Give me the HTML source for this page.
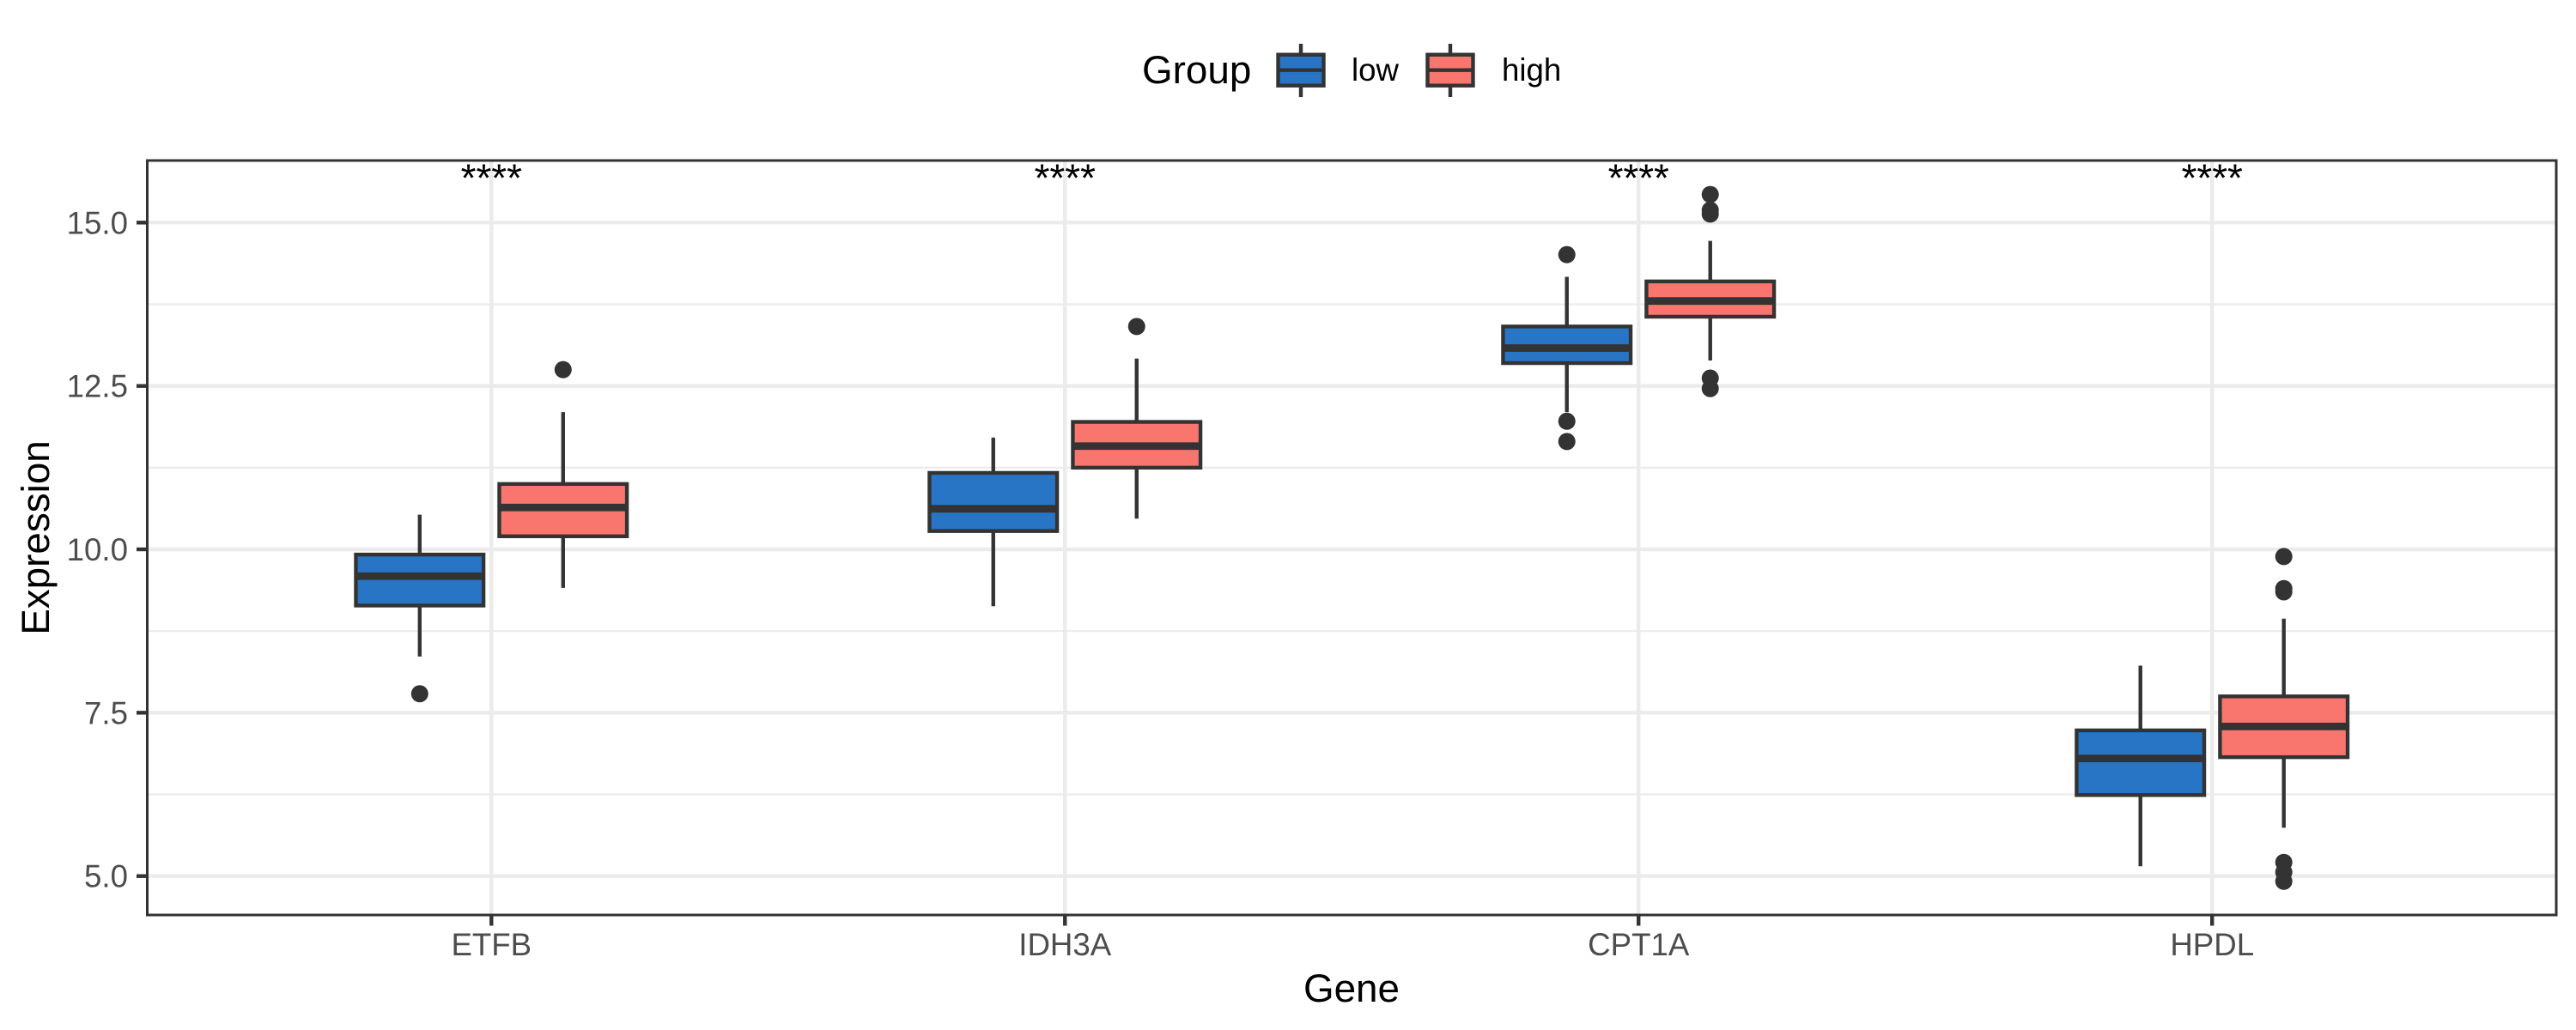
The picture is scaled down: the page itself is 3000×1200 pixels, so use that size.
<!DOCTYPE html>
<html lang="en">
<head>
<meta charset="utf-8">
<title>Expression by Gene and Group</title>
<style>
html,body{margin:0;padding:0;background:#fff;width:3000px;height:1200px;overflow:hidden}
svg{display:block}
text{font-family:"Liberation Sans",Arial,sans-serif}
</style>
</head>
<body>
<svg id="chart" xmlns="http://www.w3.org/2000/svg" width="3000" height="1200" viewBox="0 0 3000 1200">
  <rect x="0" y="0" width="3000" height="1200" fill="#ffffff"/>
  <g id="grid"></g>
  <g id="marks"></g>
  <g id="axes"></g>
  <text x="1574" y="1167" font-size="45.8" text-anchor="middle" fill="#000">Gene</text>
  <text transform="translate(57,626.5) rotate(-90)" font-size="45.8" text-anchor="middle" fill="#000">Expression</text>
  <g>
    <text x="1330" y="97" font-size="45.8" fill="#000">Group</text>
    <g>
      <line x1="1515" x2="1515" y1="51" y2="113" stroke="#333333" stroke-width="4.4"/>
      <rect x="1488.5" y="63.7" width="53" height="36" fill="#2874C5" stroke="#333333" stroke-width="4.4"/>
      <line x1="1488.5" x2="1541.5" y1="81.7" y2="81.7" stroke="#333333" stroke-width="4.4"/>
      <text x="1574" y="94" font-size="36.67" fill="#000">low</text>
    </g>
    <g>
      <line x1="1689" x2="1689" y1="51" y2="113" stroke="#333333" stroke-width="4.4"/>
      <rect x="1662.5" y="63.7" width="53" height="36" fill="#F8766D" stroke="#333333" stroke-width="4.4"/>
      <line x1="1662.5" x2="1715.5" y1="81.7" y2="81.7" stroke="#333333" stroke-width="4.4"/>
      <text x="1749" y="94" font-size="36.67" fill="#000">high</text>
    </g>
  </g>
</svg>
<script>
// ---- chart data ----
const categories = ["ETFB", "IDH3A", "CPT1A", "HPDL"];
const significance = ["****", "****", "****", "****"];
const yTickLabels = ["5.0", "7.5", "10.0", "12.5", "15.0"];
const yMajorBreaks = [5, 7.5, 10, 12.5, 15];
const yMinorBreaks = [6.25, 8.75, 11.25, 13.75];

const lowWhiskerMin = [8.36, 9.13, 12.1, 5.15];
const lowQ1 = [9.14, 10.28, 12.85, 6.24];
const lowMedian = [9.59, 10.62, 13.08, 6.80];
const lowQ3 = [9.92, 11.17, 13.41, 7.23];
const lowWhiskerMax = [10.53, 11.71, 14.17, 8.22];
const lowOutliers = [[7.79], [], [14.51, 11.96, 11.65], []];

const highWhiskerMin = [9.41, 10.47, 12.89, 5.74];
const highQ1 = [10.2, 11.25, 13.56, 6.82];
const highMedian = [10.64, 11.58, 13.80, 7.29];
const highQ3 = [11.0, 11.95, 14.10, 7.75];
const highWhiskerMax = [12.10, 12.92, 14.72, 8.94];
const highOutliers = [[12.75], [13.41], [15.43, 15.19, 15.13, 12.62, 12.46], [9.89, 9.40, 9.35, 5.21, 5.06, 4.92]];

// ---- layout and scales ----
const panel = { left: 171.5, right: 2977, top: 187, bottom: 1066 };
const yDomain = [4.405, 15.95];
const xDomain = [0.4, 4.6];
const dodge = 0.125;
const boxWidth = 0.2225;
const ink = "#333333";
const gridColor = "#EBEBEB";
const NS = "http://www.w3.org/2000/svg";

function xScale(pos) {
  return panel.left + (pos - xDomain[0]) / (xDomain[1] - xDomain[0]) * (panel.right - panel.left);
}
function yScale(v) {
  return panel.bottom - (v - yDomain[0]) / (yDomain[1] - yDomain[0]) * (panel.bottom - panel.top);
}
function make(tag, attrs, parent, text) {
  const el = document.createElementNS(NS, tag);
  for (const k in attrs) el.setAttribute(k, attrs[k]);
  if (text !== undefined) el.textContent = text;
  parent.appendChild(el);
  return el;
}

const gridG = document.getElementById("grid");
const marksG = document.getElementById("marks");
const axesG = document.getElementById("axes");

// ---- gridlines ----
yMinorBreaks.forEach(function (v) {
  const el = make("line", { x1: panel.left, x2: panel.right, y1: yScale(v), y2: yScale(v), stroke: gridColor, "stroke-width": 2.2 }, gridG);
  
  
});
yMajorBreaks.forEach(function (v) {
  const el = make("line", { x1: panel.left, x2: panel.right, y1: yScale(v), y2: yScale(v), stroke: gridColor, "stroke-width": 4.4 }, gridG);
  
  
});
categories.forEach(function (c, i) {
  const el = make("line", { x1: xScale(i + 1), x2: xScale(i + 1), y1: panel.top, y2: panel.bottom, stroke: gridColor, "stroke-width": 4.4 }, gridG);
  
  
});

// ---- boxes ----
function drawSeries(name, offset, fill, wMin, q1, med, q3, wMax, outliers) {
  categories.forEach(function (c, i) {
    const cx = xScale(i + 1 + offset);
    const half = (xScale(1 + boxWidth) - xScale(1)) / 2;
    const g = make("g", {}, marksG);
    
    

    outliers[i].forEach(function (v) {
      const p = make("circle", { cx: cx, cy: yScale(v), r: 10, fill: ink }, g);
      
      
    });

    const upper = make("line", { x1: cx, x2: cx, y1: yScale(q3[i]), y2: yScale(wMax[i]), stroke: ink, "stroke-width": 4.4 }, g);
    
    

    const lower = make("line", { x1: cx, x2: cx, y1: yScale(q1[i]), y2: yScale(wMin[i]), stroke: ink, "stroke-width": 4.4 }, g);
    
    

    const box = make("rect", { x: cx - half, y: yScale(q3[i]), width: 2 * half, height: yScale(q1[i]) - yScale(q3[i]), fill: fill, stroke: ink, "stroke-width": 4.4 }, g);
    
    

    const m = make("line", { x1: cx - half, x2: cx + half, y1: yScale(med[i]), y2: yScale(med[i]), stroke: ink, "stroke-width": 8.8 }, g);
    
    
  });
}
drawSeries("low", -dodge, "#2874C5", lowWhiskerMin, lowQ1, lowMedian, lowQ3, lowWhiskerMax, lowOutliers);
drawSeries("high", dodge, "#F8766D", highWhiskerMin, highQ1, highMedian, highQ3, highWhiskerMax, highOutliers);

// ---- significance labels ----
significance.forEach(function (s, i) {
  const t = make("text", { x: xScale(i + 1), y: 223, "font-size": 45.8, "text-anchor": "middle", fill: "#000" }, marksG, s);
  
  
});

// ---- panel border and axes ----
const border = make("rect", { x: panel.left, y: panel.top, width: panel.right - panel.left, height: panel.bottom - panel.top, fill: "none", stroke: ink, "stroke-width": 3 }, axesG);



yMajorBreaks.forEach(function (v, i) {
  const tick = make("line", { x1: panel.left - 12.5, x2: panel.left, y1: yScale(v), y2: yScale(v), stroke: ink, "stroke-width": 4.4 }, axesG);
  
  
  const lab = make("text", { x: 149, y: yScale(v) + 13, "font-size": 36.67, "text-anchor": "end", fill: "#4D4D4D" }, axesG, yTickLabels[i]);
  
  
});
categories.forEach(function (c, i) {
  const tick = make("line", { x1: xScale(i + 1), x2: xScale(i + 1), y1: panel.bottom, y2: panel.bottom + 12.5, stroke: ink, "stroke-width": 4.4 }, axesG);
  
  
  const lab = make("text", { x: xScale(i + 1), y: 1113, "font-size": 36.67, "text-anchor": "middle", fill: "#4D4D4D" }, axesG, c);
  
  
});
</script>
</body>
</html>
